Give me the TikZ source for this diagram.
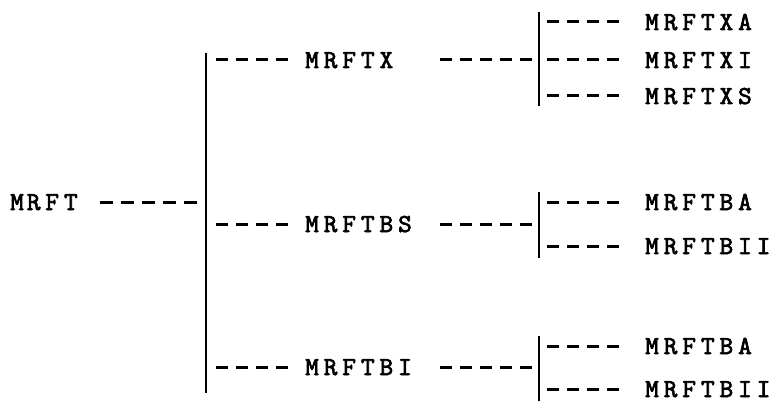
\documentclass[tikz,border=0pt]{standalone}
\usepackage{fontspec}
% slab-serif typewriter face, emboldened and letter-spaced to a wide pitch
\newfontfamily\typer{lmmono10-regular.otf}[LetterSpace=19, FakeBold=2.5]
\begin{document}
\begin{tikzpicture}[x=1pt,y=-1pt,
  label/.style={font=\typer\fontsize{26}{26}\selectfont, inner sep=0pt,
    anchor=west, text height=16pt, text depth=0pt},
  rootlabel/.style={label, text width=72pt, align=left},
  midlabel/.style={label, text width=115pt, align=left},
  dashline/.style={line width=3pt, dash pattern=on 12pt off 8pt},
  rootdash/.style={line width=3pt, dash pattern=on 13pt off 8pt},
  barline/.style={line width=2.8pt}]
\useasboundingbox (0,0) rectangle (779,409);

% row positions
\def\ra{22}\def\rb{60}\def\rc{96}
\def\rd{202}\def\re{224}\def\rf{246}
\def\rg{346}\def\rh{367}\def\ri{389}

% root
\node[rootlabel] (root) at (10,\rd) {M\hspace{3pt}RFT};

% main bar with its junctions
\coordinate (mtop) at (206,\rb-7);
\coordinate (mbot) at (206,\rh+26);
\coordinate (m2) at (206,\rb);
\coordinate (m4) at (206,\rd);
\coordinate (m5) at (206,\re);
\coordinate (m8) at (206,\rh);
\draw[barline] (mtop) -- (mbot);
\draw[rootdash, shorten <=9pt, shorten >=18pt] (m4) -- (root);

% middle level
\node[midlabel] (mrftx)  at (305,\rb) {MRFTX};
\node[midlabel] (mrftbs) at (305,\re) {MRFTBS};
\node[midlabel] (mrftbi) at (305,\rh) {MRFTBI};
\foreach \j/\n in {m2/mrftx, m5/mrftbs, m8/mrftbi}
  \draw[dashline, shorten <=10pt, shorten >=17pt] (\j) -- (\n);

% right-hand bars
\coordinate (a1) at (539,\ra); \coordinate (a2) at (539,\rb); \coordinate (a3) at (539,\rc);
\coordinate (b1) at (539,\rd); \coordinate (b2) at (539,\re); \coordinate (b3) at (539,\rf);
\coordinate (c1) at (539,\rg); \coordinate (c2) at (539,\rh); \coordinate (c3) at (539,\ri);
\draw[barline] (539,\ra-10) -- (539,\rc+10);
\draw[barline] (539,\rd-10) -- (539,\rf+12);
\draw[barline] (539,\rg-10) -- (539,\ri+12);

\foreach \j/\n in {a2/mrftx, b2/mrftbs, c2/mrftbi}
  \draw[dashline, shorten <=7pt, shorten >=20pt] (\j) -- (\n);

% leaves
\node[label] (mrftxa)  at (645,\ra) {MRFTXA};
\node[label] (mrftxi)  at (645,\rb) {MRFTXI};
\node[label] (mrftxs)  at (645,\rc) {MRFTXS};
\node[label] (mrftba1) at (645,\rd) {MRFTBA};
\node[label] (mrftbii1) at (645,\rf) {MRFTBII};
\node[label] (mrftba2) at (645,\rg) {MRFTBA};
\node[label] (mrftbii2) at (645,\ri) {MRFTBII};
\foreach \j/\n in {a1/mrftxa, a2/mrftxi, a3/mrftxs, b1/mrftba1, b3/mrftbii1, c1/mrftba2, c3/mrftbii2}
  \draw[dashline, shorten <=8pt, shorten >=26pt] (\j) -- (\n);
\end{tikzpicture}
\end{document}
